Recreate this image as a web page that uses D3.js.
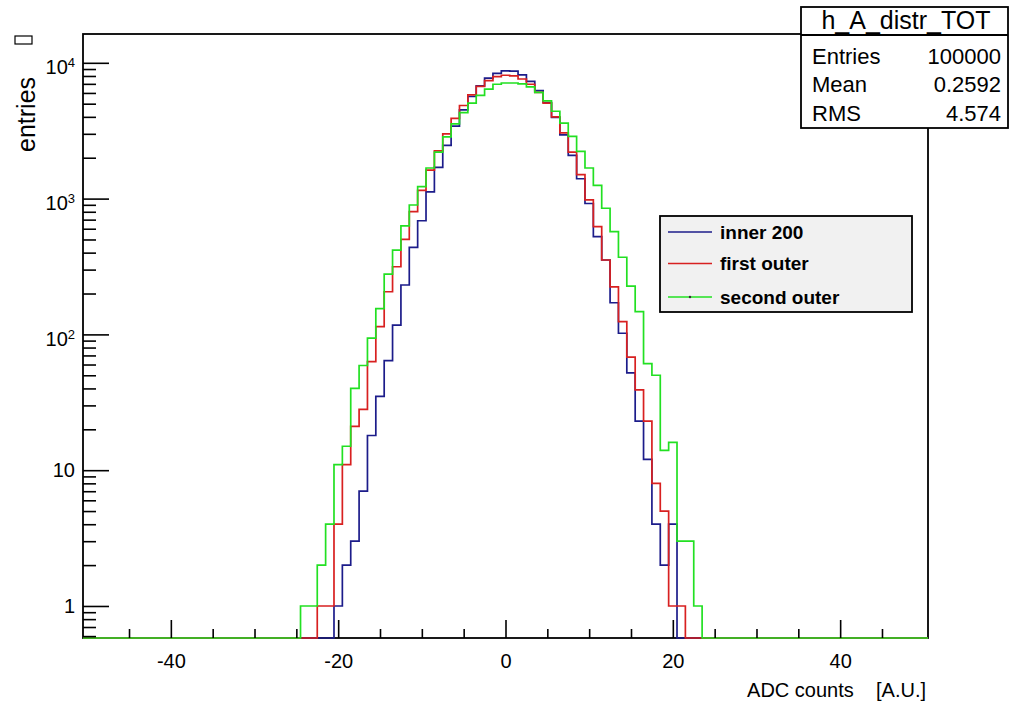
<!DOCTYPE html>
<html lang="en">
<head>
<meta charset="UTF-8">
<title>h_A_distr_TOT</title>
<script src="https://d3js.org/d3.v7.min.js"></script>
<style>
  body { margin: 0; background: #fff; }
  text { font-family: "Liberation Sans", Arial, sans-serif; fill: #000; }
  .legend text { font-weight: bold; }
</style>
</head>
<body>
<svg id="chart" width="1009" height="707"></svg>
<script>
// bin centres (bin width 1, axis runs -50.5 .. 50.5); all other bins are empty
const binCenters = [-24, -23, -22, -21, -20, -19, -18, -17, -16, -15, -14, -13, -12, -11, -10, -9,
  -8, -7, -6, -5, -4, -3, -2, -1, 0, 1, 2, 3, 4, 5, 6, 7,
  8, 9, 10, 11, 12, 13, 14, 15, 16, 17, 18, 19, 20, 21, 22, 23];

const inner200 = [0, 0, 0, 0, 1, 2, 3, 7, 18, 35, 64, 117, 231, 438, 687, 1120,
  1700, 2470, 3420, 4500, 5650, 6770, 7720, 8370, 8710, 8700, 8150, 7300, 6250, 5100, 3970, 2950,
  2080, 1400, 920, 524, 353, 171, 102, 52, 23, 12, 4, 2, 4, 0, 0, 0];

const firstOuter = [0, 0, 1, 1, 4, 11, 21, 28, 63, 114, 206, 315, 501, 801, 1150, 1620,
  2250, 3000, 3900, 4850, 5800, 6700, 7400, 7900, 8100, 8000, 7600, 6950, 6050, 5050, 4000, 3050,
  2200, 1500, 980, 621, 353, 224, 124, 68, 39, 23, 8, 5, 1, 1, 0, 0];

const secondOuter = [1, 1, 2, 4, 11, 15, 40, 59, 94, 155, 278, 418, 629, 897, 1224, 1680,
  2200, 2850, 3550, 4300, 5050, 5750, 6400, 6950, 7100, 7100, 7000, 6650, 6050, 5250, 4400, 3600,
  2870, 2230, 1680, 1250, 849, 571, 370, 227, 147, 61, 50, 14, 16, 3, 3, 1];

const seriesNames = ["inner 200", "first outer", "second outer"];
const seriesColors = ["#1c1c8a", "#d82020", "#22e022"];
const seriesValues = [inner200, firstOuter, secondOuter];

const xMajor = [-40, -20, 0, 20, 40];
const xMinor = [-45, -35, -30, -25, -15, -10, -5, 5, 10, 15, 25, 30, 35, 45];
const yMajor = [1, 10, 100, 1000, 10000];

const statsTitle = "h_A_distr_TOT";
const statsRows = [["Entries", "100000"], ["Mean", "0.2592"], ["RMS", "4.574"]];

const W = 1009, H = 707;
const fLeft = 83, fRight = 928, fTop = 34, fBottom = 638;

const svg = d3.select("#chart");
svg.append("rect").attr("width", W).attr("height", H).attr("fill", "#fff");

const x = d3.scaleLinear().domain([-50.5, 50.5]).range([fLeft, fRight]);
const y = d3.scaleLog().domain([0.581, 16300]).range([fBottom, fTop]);

// y minor ticks: 2..9 of every decade, plus the ones below 1
const yMinor = [];
[0.1, 1, 10, 100, 1000].forEach(d => {
  for (let m = 2; m <= 9; m++) {
    const v = d * m;
    if (v > y.domain()[0] && v < y.domain()[1]) yMinor.push(v);
  }
});

// frame first, histograms drawn over it
svg.append("rect").attr("x", fLeft).attr("y", fTop).attr("width", fRight - fLeft).attr("height", fBottom - fTop)
  .attr("fill", "none").attr("stroke", "#000").attr("stroke-width", 1.8);

svg.append("clipPath").attr("id", "frame")
  .append("rect").attr("x", fLeft).attr("y", fTop).attr("width", fRight - fLeft).attr("height", fBottom - fTop + 1.5);

const plot = svg.append("g").attr("clip-path", "url(#frame)");
seriesValues.forEach((vals, si) => {
  const full = [];
  for (let c = -50; c <= 50; c++) {
    const i = binCenters.indexOf(c);
    full.push({ c: c, v: i < 0 ? 0 : vals[i] });
  }
  const yv = v => v > 0 ? y(v) : fBottom;
  let d = "M" + x(-50.5) + "," + yv(full[0].v);
  full.forEach(b => {
    d += "L" + x(b.c - 0.5) + "," + yv(b.v) + "L" + x(b.c + 0.5) + "," + yv(b.v);
  });
  plot.append("path").attr("d", d).attr("fill", "none")
    .attr("stroke", seriesColors[si]).attr("stroke-width", 1.7);
});

// axes (ticks inside the frame)
const xAxis = svg.append("g").attr("transform", `translate(0,${fBottom})`);
xAxis.call(d3.axisBottom(x).tickValues(xMajor).tickSizeInner(-18).tickSizeOuter(0).tickPadding(16)
  .tickFormat(d => String(d)));
svg.append("g").attr("transform", `translate(0,${fBottom})`)
  .call(d3.axisBottom(x).tickValues(xMinor).tickSizeInner(-9).tickSizeOuter(0).tickFormat(""));

const yAxis = svg.append("g").attr("transform", `translate(${fLeft},0)`);
yAxis.call(d3.axisLeft(y).tickValues(yMajor).tickSizeInner(-26).tickSizeOuter(0).tickPadding(8)
  .tickFormat(d => String(d)));
svg.append("g").attr("transform", `translate(${fLeft},0)`)
  .call(d3.axisLeft(y).tickValues(yMinor).tickSizeInner(-13).tickSizeOuter(0).tickFormat(""));

svg.selectAll(".domain").remove();
svg.selectAll(".tick line").attr("stroke", "#000").attr("stroke-width", 1.6);
xAxis.selectAll("text").attr("font-size", 20).attr("font-family", "Liberation Sans, Arial, sans-serif");
yAxis.selectAll("text").attr("font-size", 20).attr("font-family", "Liberation Sans, Arial, sans-serif")
  .each(function(d) {
    const t = d3.select(this);
    const e = Math.round(Math.log10(d));
    if (e >= 2) {
      t.text("10").attr("dy", "0.55em");
      t.append("tspan").attr("dy", "-0.55em").attr("font-size", 13).text(e);
    }
  });

// axis titles
svg.append("text").attr("x", 926).attr("y", 697).attr("text-anchor", "end")
  .attr("font-size", 20).style("white-space", "pre").text("ADC counts    [A.U.]");
svg.append("text").attr("transform", "translate(35,152) rotate(-90)")
  .attr("font-size", 25).text("entries");
svg.append("rect").attr("x", 15).attr("y", 36).attr("width", 17).attr("height", 8)
  .attr("fill", "none").attr("stroke", "#000").attr("stroke-width", 1.2);

// legend
const lg = svg.append("g").attr("class", "legend");
lg.append("rect").attr("x", 660).attr("y", 216).attr("width", 252).attr("height", 96)
  .attr("fill", "#f1f1f1").attr("stroke", "#000").attr("stroke-width", 1.8);
const legY = [232, 263.5, 297];
seriesNames.forEach((n, i) => {
  lg.append("line").attr("x1", 668).attr("x2", 712).attr("y1", legY[i]).attr("y2", legY[i])
    .attr("stroke", seriesColors[i]).attr("stroke-width", 1.6);
  lg.append("text").attr("x", 720).attr("y", legY[i] + 6.5).attr("font-size", 19).text(n);
});
lg.append("circle").attr("cx", 690).attr("cy", legY[2]).attr("r", 1.2).attr("fill", "#333");

// statistics box
const sb = svg.append("g");
sb.append("rect").attr("x", 801).attr("y", 7).attr("width", 207).attr("height", 121)
  .attr("fill", "#fff").attr("stroke", "#000").attr("stroke-width", 1.8);
sb.append("line").attr("x1", 801).attr("x2", 1008).attr("y1", 35).attr("y2", 35)
  .attr("stroke", "#000").attr("stroke-width", 1.8);
sb.append("text").attr("x", 906).attr("y", 29).attr("text-anchor", "middle")
  .attr("font-size", 25).text(statsTitle);
const rowY = [64, 92, 121];
statsRows.forEach((r, i) => {
  sb.append("text").attr("x", 812).attr("y", rowY[i]).attr("font-size", 22).text(r[0]);
  sb.append("text").attr("x", 1001).attr("y", rowY[i]).attr("text-anchor", "end")
    .attr("font-size", 22).text(r[1]);
});
</script>
</body>
</html>
